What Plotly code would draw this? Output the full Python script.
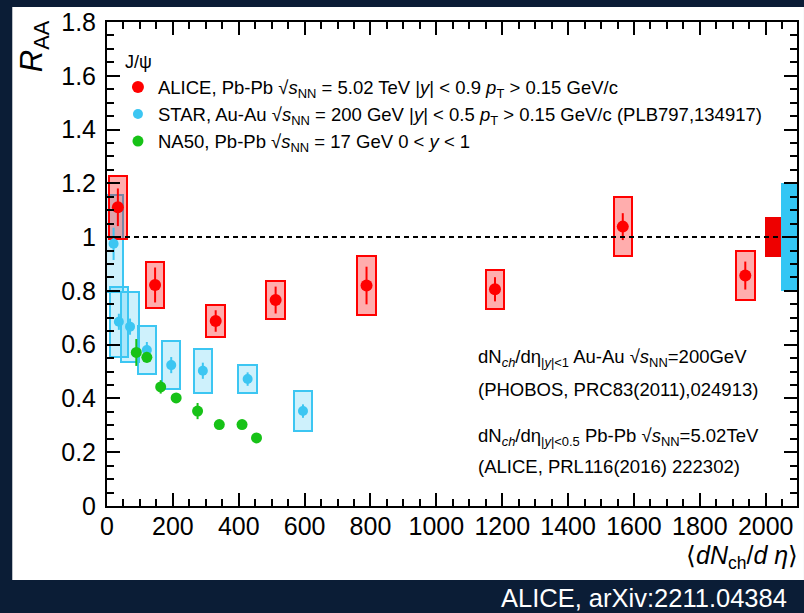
import plotly.graph_objects as go

# ---------------- data ----------------
alice_x = [33, 146, 330, 512, 788, 1178, 1566, 1938]
alice_y = [1.111, 0.822, 0.688, 0.766, 0.82, 0.806, 1.039, 0.857]
alice_stat = [0.07, 0.065, 0.04, 0.05, 0.07, 0.045, 0.05, 0.052]
alice_syst = [0.117, 0.084, 0.058, 0.07, 0.11, 0.072, 0.11, 0.092]

star_x = [20, 36, 70, 121, 195, 291, 427, 595]
star_y = [0.975, 0.685, 0.667, 0.58, 0.524, 0.503, 0.472, 0.353]
star_stat = [0.06, 0.03, 0.03, 0.03, 0.03, 0.03, 0.025, 0.025]
star_syst = [0.18, 0.13, 0.13, 0.09, 0.09, 0.081, 0.051, 0.073]

na50_x = [89, 121, 163, 210, 275, 341, 410, 454]
na50_y = [0.571, 0.553, 0.443, 0.402, 0.353, 0.303, 0.303, 0.253]
na50_stat = [0.05, 0.02, 0.025, 0.01, 0.03, 0.01, 0.01, 0.01]

# global normalisation uncertainties (centred at R_AA = 1)
glob_x = [2021, 2071]
glob_unc = [0.075, 0.2]

x_ticks = [0, 200, 400, 600, 800, 1000, 1200, 1400, 1600, 1800, 2000]
y_ticks = [0, 0.2, 0.4, 0.6, 0.8, 1, 1.2, 1.4, 1.6, 1.8]

# ---------------- layout helpers ----------------
L, R, T, B = 107, 5, 22, 107
W, H = 804, 613
PW, PH = W - L - R, H - T - B


def xp(px):
    return (px - L) / PW


def yp(py):
    return (H - B - py) / PH


FONT = "Liberation Sans, Arial, Helvetica, sans-serif"
RED = "#ff0000"
BLUE = "#3cc6f2"
GREEN = "#17c217"
BOX_HW = 28

fig = go.Figure()

# STAR systematic boxes
fig.add_trace(go.Bar(
    x=star_x, y=[2 * s for s in star_syst],
    base=[y - s for y, s in zip(star_y, star_syst)],
    width=[2 * BOX_HW] * len(star_x),
    marker=dict(color="rgba(60,198,242,0.25)", line=dict(color=BLUE, width=2)),
    showlegend=False, hoverinfo="skip"))

# ALICE systematic boxes
fig.add_trace(go.Bar(
    x=alice_x, y=[2 * s for s in alice_syst],
    base=[y - s for y, s in zip(alice_y, alice_syst)],
    width=[2 * BOX_HW] * len(alice_x),
    marker=dict(color="rgba(255,0,0,0.32)", line=dict(color=RED, width=2)),
    showlegend=False, hoverinfo="skip"))

# global uncertainty boxes
fig.add_trace(go.Bar(
    x=glob_x, y=[2 * u for u in glob_unc],
    base=[1 - u for u in glob_unc],
    width=[48, 48],
    marker=dict(color=["#ee0000", "#33c6f4"], line=dict(width=0)),
    showlegend=False, hoverinfo="skip"))

fig.add_trace(go.Scatter(
    x=star_x, y=star_y, mode="markers",
    name="STAR, Au-Au √<i>s</i><sub>NN</sub> = 200 GeV |<i>y</i>| &lt; 0.5 <i>p</i><sub>T</sub> &gt; 0.15 GeV/c (PLB797,134917)",
    marker=dict(color=BLUE, size=10),
    error_y=dict(type="data", array=star_stat, width=0, thickness=2, color=BLUE),
    legendrank=2))

fig.add_trace(go.Scatter(
    x=na50_x, y=na50_y, mode="markers",
    name="NA50, Pb-Pb √<i>s</i><sub>NN</sub> = 17 GeV 0 &lt; <i>y</i> &lt; 1",
    marker=dict(color=GREEN, size=11),
    error_y=dict(type="data", array=na50_stat, width=0, thickness=2, color=GREEN),
    legendrank=3))

fig.add_trace(go.Scatter(
    x=alice_x, y=alice_y, mode="markers",
    name="ALICE, Pb-Pb √<i>s</i><sub>NN</sub> = 5.02 TeV |<i>y</i>| &lt; 0.9 <i>p</i><sub>T</sub> &gt; 0.15 GeV/c",
    marker=dict(color=RED, size=12),
    error_y=dict(type="data", array=alice_stat, width=0, thickness=2, color=RED),
    legendrank=1))

axis_common = dict(
    showline=True, linecolor="black", linewidth=2, mirror="allticks",
    ticks="inside", ticklen=13, tickwidth=2, tickcolor="black",
    showgrid=False, zeroline=False,
    tickfont=dict(family=FONT, size=25, color="black"),
)

fig.update_xaxes(range=[0, 2095], tickvals=x_ticks,
                 minor=dict(dtick=50, tick0=0, ticks="inside", ticklen=7, tickwidth=2,
                            tickcolor="black", showgrid=False),
                 ticklabelstandoff=-3, **axis_common)
fig.update_yaxes(range=[0, 1.8], tickvals=y_ticks,
                 minor=dict(dtick=0.05, tick0=0, ticks="inside", ticklen=7, tickwidth=2,
                            tickcolor="black", showgrid=False),
                 ticklabelstandoff=4, **axis_common)

shapes = [
    dict(type="rect", xref="paper", yref="paper", x0=xp(12), x1=xp(806), y0=yp(580), y1=yp(7),
         fillcolor="white", line=dict(width=0), layer="below"),
    dict(type="line", xref="x", yref="y", x0=0, x1=2095, y0=1, y1=1,
         line=dict(color="black", width=2, dash="5px,4px"), layer="above"),
]

ann_font = dict(family=FONT, size=18.5, color="black")
annotations = [
    dict(text="<i>R</i><sub>AA</sub>", xref="paper", yref="paper", x=xp(34), y=yp(46),
         textangle=-90, showarrow=False, font=dict(family=FONT, size=31, color="black"),
         xanchor="center", yanchor="middle"),
    dict(text="⟨<i>dN</i><sub>ch</sub>/<i>d η</i>⟩", xref="paper", yref="paper",
         x=xp(802), y=yp(557), showarrow=False, xanchor="right", yanchor="middle",
         font=dict(family=FONT, size=25, color="black")),
    dict(text="dN<sub><i>ch</i></sub>/dη<sub>|<i>y</i>|&lt;1</sub> Au-Au √<i>s</i><sub>NN</sub>=200GeV",
         xref="paper", yref="paper", x=xp(477), y=yp(358), showarrow=False,
         xanchor="left", yanchor="middle", font=ann_font),
    dict(text="(PHOBOS, PRC83(2011),024913)",
         xref="paper", yref="paper", x=xp(477), y=yp(389), showarrow=False,
         xanchor="left", yanchor="middle", font=ann_font),
    dict(text="dN<sub><i>ch</i></sub>/dη<sub>|<i>y</i>|&lt;0.5</sub> Pb-Pb √<i>s</i><sub>NN</sub>=5.02TeV",
         xref="paper", yref="paper", x=xp(477), y=yp(437), showarrow=False,
         xanchor="left", yanchor="middle", font=ann_font),
    dict(text="(ALICE, PRL116(2016) 222302)",
         xref="paper", yref="paper", x=xp(477), y=yp(466), showarrow=False,
         xanchor="left", yanchor="middle", font=ann_font),
    dict(text="ALICE, arXiv:2211.04384", xref="paper", yref="paper",
         x=xp(791), y=yp(598), showarrow=False, xanchor="right", yanchor="middle",
         font=dict(family=FONT, size=25.5, color="white")),
]

fig.update_layout(
    width=W, height=H,
    margin=dict(l=L, r=R, t=T, b=B, pad=0),
    paper_bgcolor="#0b1d36", plot_bgcolor="white",
    barmode="overlay", bargap=0,
    shapes=shapes, annotations=annotations,
    showlegend=True,
    legend=dict(x=xp(118), y=yp(45), xanchor="left", yanchor="top",
                bgcolor="rgba(0,0,0,0)", borderwidth=0,
                font=dict(family=FONT, size=18.5, color="black"),
                title=dict(text=" J/ψ", font=dict(family=FONT, size=18, color="black")),
                tracegroupgap=0, itemclick=False),
    font=dict(family=FONT),
)

fig.write_html("out.html")
